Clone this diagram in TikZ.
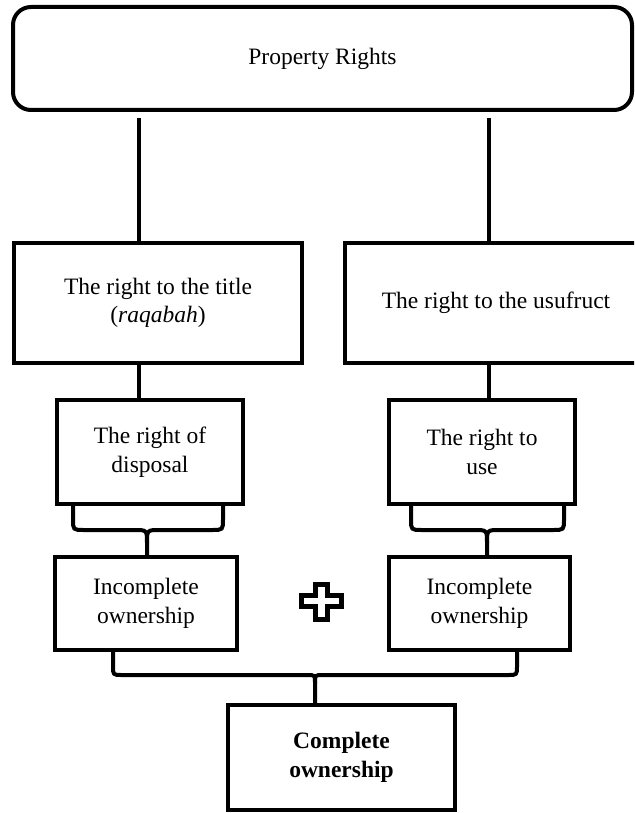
\documentclass[tikz,border=0pt]{standalone}
\usepackage{fontspec}
\setmainfont{Liberation Serif}

% brace joining two boxes into one stem:
% #1 left arm x, #2 right arm x, #3 stem x, #4 top y, #5 bar y, #6 stem end y, #7 corner radius, #8 tip radius
\newcommand\joinbrace[8]{%
  \draw[brace] (#1,#4) -- (#1,#5-#7) .. controls (#1,#5) .. (#1+#7,#5)
     -- (#3-#8,#5) .. controls (#3,#5) .. (#3,#5+#8) -- (#3,#6);
  \draw[brace] (#2,#4) -- (#2,#5-#7) .. controls (#2,#5) .. (#2-#7,#5)
     -- (#3+#8,#5) .. controls (#3,#5) .. (#3,#5+#8);
}

\begin{document}
\begin{tikzpicture}[x=1pt,y=-1pt,
  box/.style={draw, line width=4pt, align=center, inner sep=0pt,
    font=\fontsize{23.5}{28.5}\selectfont},
  link/.style={line width=4pt},
  brace/.style={line width=4pt, line cap=round, line join=round},
  plusmark/.style={line width=5pt, miter limit=10}]
\useasboundingbox (0,0) rectangle (634,813);
\clip (0,0) rectangle (634,813);

% top level
\node[box, rounded corners=18pt, minimum width=619pt, minimum height=103pt]
  (prop) at (322.5,58.5) {Property Rights};

% the two rights
\node[box, minimum width=288pt, minimum height=120pt]
  (title) at (158,303) {The right to the title\\(\textit{raqabah})};
\node[box, minimum width=302pt, minimum height=120pt]
  (usufruct) at (496,303) {The right to the usufruct};

% what each right gives
\node[box, minimum width=186pt, minimum height=104pt]
  (disposal) at (150,452) {The right of\\disposal};
\node[box, minimum width=186pt, minimum height=104pt]
  (use) at (482,452) {The right to\\use};

% partial ownership
\node[box, minimum width=182pt, minimum height=93pt]
  (incl) at (146,603.5) {Incomplete\\ownership};
\node[box, minimum width=181pt, minimum height=93pt]
  (incr) at (479.5,603.5) {Incomplete\\ownership};

% full ownership
\node[box, minimum width=227pt, minimum height=105pt, font=\fontsize{23.5}{28.5}\selectfont\bfseries]
  (full) at (341.5,757.5) {Complete\\ownership};

% vertical links
\coordinate (ja) at (139,118);
\coordinate (jb) at (489,118);
\draw[link] (ja) -- (ja |- title.north);
\draw[link] (jb) -- (jb |- usufruct.north);
\draw[link] (ja |- title.south) -- (ja |- disposal.north);
\draw[link] (jb |- usufruct.south) -- (jb |- use.north);

% braces
\joinbrace{73}{223}{147}{505}{530}{555}{11}{13}
\joinbrace{411}{564}{487}{505}{530}{555}{11}{13}
\joinbrace{113}{517}{315}{652}{675}{703}{9}{8}

% plus sign
\draw[plusmark] (315.8,584.2) -- (327.5,584.2) -- (327.5,595.8) -- (341.8,595.8)
  -- (341.8,606.8) -- (327.5,606.8) -- (327.5,619.2) -- (315.8,619.2)
  -- (315.8,606.8) -- (301.8,606.8) -- (301.8,595.8) -- (315.8,595.8) -- cycle;
\end{tikzpicture}
\end{document}
